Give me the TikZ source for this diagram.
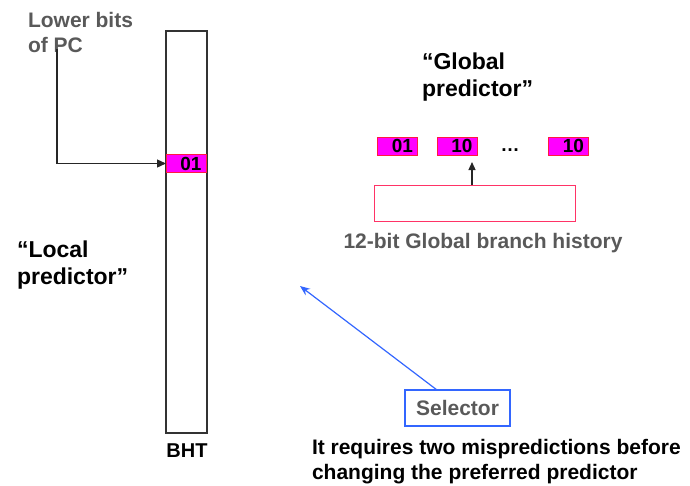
\documentclass[tikz,border=0pt]{standalone}
\usepackage{fontspec}
\setmainfont{Liberation Sans}
\usetikzlibrary{arrows.meta}
\definecolor{labelgray}{HTML}{595959}
\definecolor{cellfill}{HTML}{FF00FF}
\definecolor{celledge}{HTML}{FF1A40}
\definecolor{histedge}{HTML}{FF3366}
\definecolor{selblue}{HTML}{3366FF}
\begin{document}
\begin{tikzpicture}[x=1pt,y=-1pt,
  every node/.style={inner sep=0pt, outer sep=0pt},
  caption/.style={font=\bfseries\fontsize{21}{25}\selectfont, align=left, anchor=base west},
  heading/.style={font=\bfseries\fontsize{23}{27}\selectfont, align=left, anchor=base west},
  cell/.style={draw=celledge, fill=cellfill, line width=1pt, minimum height=18pt,
    text width=31pt, inner xsep=4.5pt, align=right,
    font=\bfseries\fontsize{19}{19}\selectfont},
  wire/.style={draw=black!85, line width=1.3pt},
  tip/.style={-{Triangle[length=9pt,width=8pt]}},
  bluewire/.style={draw=selblue, line width=1.2pt, -{Stealth[length=10pt,width=8pt]}}]
\useasboundingbox (0,0) rectangle (690,485);

% local predictor: branch history table indexed by the PC
\node[draw=black!80, line width=1.2pt, minimum width=41pt, minimum height=402pt] (bht) at (186.5,232) {};
\node[cell] (bhtcell) at (186,163.5) {01};
\node[font=\bfseries\fontsize{20}{20}\selectfont, anchor=base] (bhtlabel) at (187,457) {BHT};
% multi-line nodes are placed by the baseline of their last line
\node[caption, text=labelgray] (pc) at (28,52) {Lower bits\\of PC};
\coordinate (pcsrc) at (57,49);
\draw[wire, tip] (pcsrc) |- (bhtcell.west);
\node[heading] (local) at (17,284) {“Local\\predictor”};

% global predictor: counters indexed by the global history register
\node[heading] (global) at (422,96) {“Global\\predictor”};
\node[cell] (g1) at (397.5,146) {01};
\node[cell] (g2) at (457,146) {10};
\node[font=\bfseries\fontsize{19}{19}\selectfont, anchor=base] (gdots) at (510,151) {…};
\node[cell] (g3) at (568.5,146) {10};
\node[draw=histedge, line width=1pt, minimum width=201pt, minimum height=36pt] (hist) at (474.5,203) {};
\node[font=\bfseries\fontsize{21}{21}\selectfont, text=labelgray, anchor=base] (histlabel) at (483,248) {12-bit Global branch history};
\coordinate (histtip) at (472,162);
\draw[wire, line width=1.2pt, -{Triangle[length=8pt,width=7pt]}] (hist.north -| histtip) -- (histtip);

% selector between the two predictors
\node[draw=selblue, line width=1.3pt, minimum width=105pt, minimum height=36pt,
  font=\bfseries\fontsize{21}{21}\selectfont, text=labelgray] (sel) at (457.5,408) {Selector};
\coordinate (seltarget) at (300,286);
\draw[bluewire] ([xshift=-20.5pt]sel.north) -- (seltarget);
\node[caption] (note) at (312,479) {It requires two mispredictions before\\changing the preferred predictor};
\end{tikzpicture}
\end{document}
